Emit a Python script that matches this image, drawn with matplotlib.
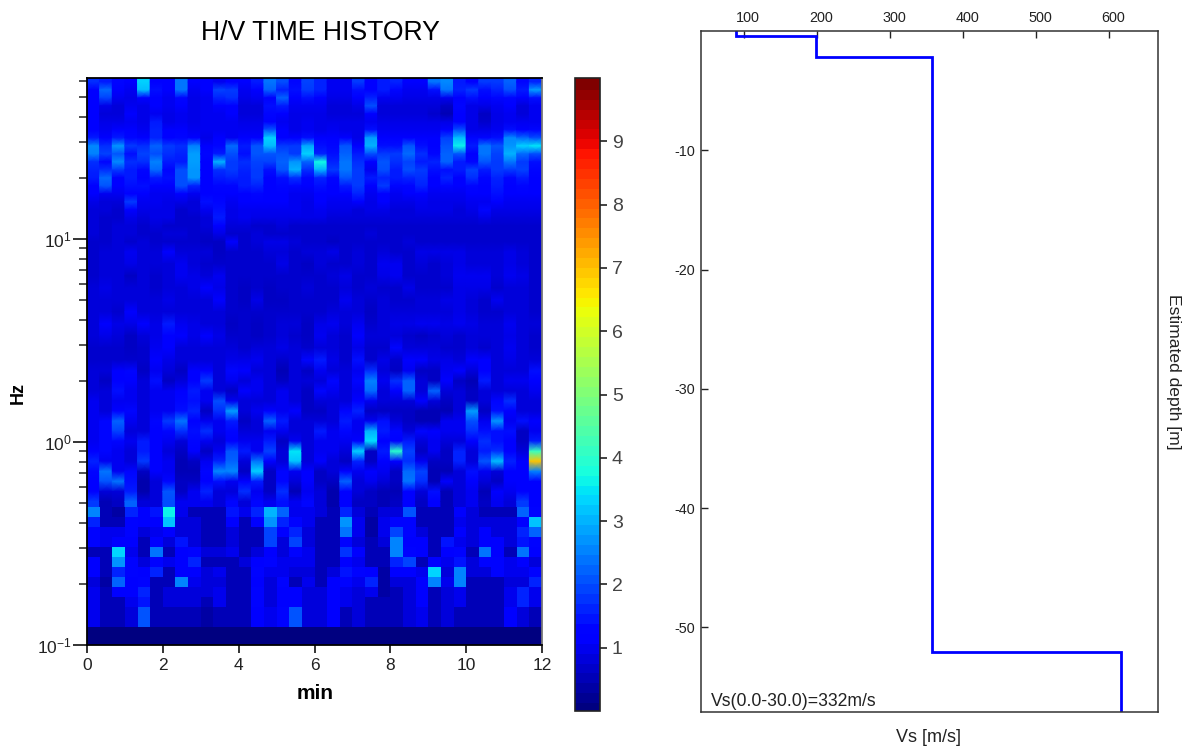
import numpy as np
import matplotlib
matplotlib.use('Agg')
import matplotlib.pyplot as plt
from matplotlib.transforms import ScaledTranslation

plt.rcParams['font.family'] = ['Liberation Sans', 'DejaVu Sans']
plt.rcParams['axes.unicode_minus'] = False

# H/V ratio x10, one list per time window (36 windows, 12 min), highest frequency first
hv_top = [
    [17,11,11,11,11,11,12,15,26,25,17,16,15,12,11,9,8,8,8,8,7],
    [15,23,19,9,8,9,10,11,17,19,13,17,23,21,10,8,8,7,7,7,7],
    [13,12,10,8,8,9,11,15,27,21,26,18,12,12,10,8,7,7,8,8,8],
    [12,10,9,10,11,10,12,13,18,14,17,15,15,14,12,18,11,9,8,8,7],
    [33,31,12,9,9,9,10,12,17,19,17,13,12,14,11,10,9,8,7,7,8],
    [12,14,12,11,10,15,16,16,22,20,25,23,15,12,10,10,9,9,8,7,7],
    [12,11,10,10,9,9,11,11,18,17,15,13,14,12,10,9,9,9,7,8,7],
    [24,24,13,11,10,10,11,13,17,16,15,20,20,20,12,9,7,7,7,8,7],
    [11,10,9,9,9,9,10,11,25,28,28,27,27,16,10,8,8,7,7,7,7],
    [11,11,10,10,10,10,10,9,11,13,11,11,11,11,11,14,10,8,8,7,6],
    [10,19,16,12,10,10,10,11,13,15,30,17,15,13,12,13,14,15,12,9,6],
    [12,18,17,12,11,10,10,10,23,20,18,18,16,13,11,10,9,9,8,7,12],
    [11,10,9,8,8,9,10,12,15,14,17,16,15,15,11,11,10,10,8,7,7],
    [15,12,10,8,8,9,10,11,21,21,19,18,18,16,13,11,10,9,7,8,8],
    [24,22,11,14,13,11,21,33,31,21,19,14,12,11,12,11,10,9,7,7,9],
    [20,16,22,15,12,10,11,12,18,21,22,21,14,13,12,11,10,9,8,7,9],
    [13,14,12,10,9,9,9,12,18,18,27,30,17,13,10,10,10,9,7,7,8],
    [19,18,14,10,9,10,10,14,29,33,22,17,13,11,10,9,9,9,7,7,7],
    [16,16,12,10,9,9,9,12,14,16,37,30,16,14,12,11,10,9,7,7,7],
    [10,10,9,8,8,9,10,11,13,14,16,18,13,11,11,10,9,8,7,7,6],
    [10,10,9,8,8,9,9,11,21,22,24,24,21,15,12,10,9,8,7,7,7],
    [18,14,11,9,8,9,9,9,12,15,17,18,18,18,16,11,8,8,7,7,7],
    [12,11,16,20,11,10,14,28,30,20,11,10,15,12,10,9,9,8,7,8,7],
    [15,15,10,8,8,9,10,11,14,18,21,20,16,18,12,11,9,8,7,7,7],
    [16,13,10,8,8,9,10,11,14,18,17,15,15,13,10,9,8,8,7,7,7],
    [11,10,9,8,8,9,10,11,21,23,19,20,16,13,11,9,8,8,7,7,8],
    [12,10,9,8,8,9,10,11,14,17,15,18,17,16,12,10,9,8,7,7,7],
    [24,14,9,8,7,9,10,11,12,13,16,14,12,12,10,9,9,8,7,7,7],
    [26,24,10,6,5,9,11,19,21,22,22,14,16,13,10,9,9,8,7,7,7],
    [15,16,11,13,11,11,20,31,36,21,15,15,12,11,10,9,8,8,7,7,7],
    [12,18,14,9,9,9,9,13,15,11,13,19,17,13,11,10,9,8,7,7,7],
    [18,14,11,9,6,7,9,13,24,24,21,15,13,12,11,10,13,9,7,7,7],
    [18,16,13,10,9,9,10,14,21,19,18,18,16,15,14,11,9,8,7,7,7],
    [22,20,13,11,10,10,14,26,27,30,24,18,13,12,11,10,9,8,7,7,7],
    [13,15,11,8,8,10,12,23,33,23,18,19,15,13,11,10,9,8,7,7,7],
    [16,28,14,10,10,10,13,20,35,20,14,13,12,12,11,10,9,8,7,7,7],
]
hv_mid = [
    [7,7,7,8,8,8,8,8,7,7],
    [8,8,8,9,8,8,11,9,7,7],
    [8,8,8,8,8,7,9,8,7,7],
    [10,9,6,8,8,12,9,6,6,7],
    [8,8,8,8,8,8,12,8,7,7],
    [8,8,7,7,8,8,9,9,10,11],
    [11,8,8,8,9,8,15,11,12,9],
    [8,10,10,8,8,8,10,11,8,8],
    [8,8,9,9,8,8,9,9,8,8],
    [8,7,8,11,8,8,8,11,8,8],
    [6,7,10,9,12,8,8,9,8,8],
    [7,7,7,7,7,7,6,7,8,9],
    [7,7,7,6,6,7,7,7,7,9],
    [7,7,7,7,9,7,6,6,8,10],
    [8,7,7,6,6,7,7,7,8,8],
    [8,9,7,7,6,7,8,8,9,7],
    [7,7,7,7,7,7,8,7,8,8],
    [8,6,7,8,7,7,6,6,7,13],
    [8,8,7,7,7,7,9,10,8,15],
    [9,7,8,7,7,8,10,8,8,9],
    [7,7,9,8,10,8,8,7,7,7],
    [8,8,7,7,8,8,10,11,9,14],
    [7,7,7,8,7,6,7,8,7,7],
    [8,10,9,7,8,8,8,8,7,9],
    [7,10,10,7,7,8,9,8,13,7],
    [7,7,7,9,7,8,9,7,8,12],
    [9,8,7,7,8,8,10,6,8,12],
    [9,7,7,7,8,8,10,7,8,9],
    [9,8,8,7,9,8,9,8,7,9],
    [9,9,10,9,9,9,10,7,7,8],
    [8,8,10,9,8,8,9,8,8,12],
    [8,8,10,9,7,7,8,8,7,12],
    [8,8,8,7,10,7,8,8,8,8],
    [9,9,10,8,8,8,10,9,10,9],
    [8,8,9,8,8,8,8,8,8,8],
    [7,7,7,7,7,7,8,7,7,8],
]
hv_low = [
    [8,8,8,10,10,10,10,10,11,16,13,12,11,18,26,17,14,14,6,11,12,8,10,10,10,10],
    [8,6,8,8,8,13,13,13,13,10,24,21,8,5,5,5,10,10,6,5,5,4,5,5,5,5],
    [11,11,14,10,11,22,19,13,10,10,10,24,8,6,4,6,10,11,33,28,17,22,11,6,6,6],
    [13,12,10,10,13,10,8,10,8,8,13,14,15,22,17,13,14,11,10,13,14,12,11,10,8,8],
    [6,8,8,8,8,8,8,15,15,18,6,4,4,8,11,12,8,6,5,8,11,14,16,15,21,21],
    [10,14,10,10,10,13,11,11,11,11,11,8,8,8,15,12,10,12,24,13,16,6,5,6,5,5],
    [8,6,10,10,10,18,13,10,8,10,10,13,21,20,36,32,12,8,5,10,6,6,8,8,5,5],
    [6,8,11,13,14,24,17,8,6,5,5,6,6,10,10,8,8,15,12,11,11,25,8,8,5,5],
    [12,11,15,14,16,11,14,13,11,6,5,6,10,10,6,8,8,8,14,17,11,10,8,8,5,5],
    [11,18,10,10,6,10,17,10,6,10,13,11,16,10,5,5,5,5,8,6,8,8,8,6,4,4],
    [8,8,8,20,17,10,10,8,10,16,26,14,8,8,5,5,6,6,8,6,10,8,10,10,6,6],
    [13,10,6,10,28,15,13,12,21,22,26,10,8,13,15,11,8,8,10,6,6,6,6,6,6,6],
    [12,8,12,8,8,6,8,10,15,8,6,11,17,8,10,6,6,6,6,8,6,6,6,6,6,6],
    [8,10,10,8,10,8,8,10,10,24,33,15,10,13,17,12,6,6,8,11,14,12,14,14,11,11],
    [8,8,8,8,12,22,10,15,19,12,6,6,6,10,31,28,20,19,11,13,10,8,8,8,10,10],
    [5,6,10,10,10,15,10,6,8,8,13,13,17,14,22,17,11,8,8,10,10,13,11,11,13,13],
    [8,8,8,8,12,8,8,10,35,32,10,8,5,10,10,14,17,20,14,10,8,6,11,11,21,21],
    [6,8,6,6,6,8,8,8,8,8,11,12,10,13,10,10,8,8,10,10,8,10,8,8,8,8],
    [10,8,13,8,6,8,15,10,10,11,6,6,8,8,8,5,5,5,6,6,5,6,8,8,8,8],
    [8,13,10,8,8,8,10,10,10,8,8,6,4,4,5,6,6,6,6,6,8,11,12,12,12,12],
    [8,8,8,8,13,15,13,10,8,6,12,22,11,11,16,27,24,14,18,12,15,14,10,10,5,5],
    [10,13,10,11,16,10,10,12,33,16,10,8,8,6,8,10,10,8,11,10,13,10,8,8,8,8],
    [17,25,23,10,6,10,30,34,6,6,12,10,6,6,6,4,4,5,5,6,11,17,10,6,5,5],
    [8,10,8,8,6,14,15,12,15,12,10,8,5,5,8,10,10,8,6,6,4,4,4,5,5,5],
    [6,17,12,8,6,8,13,12,40,12,6,6,5,6,8,14,20,26,26,16,11,8,6,6,5,5],
    [10,22,22,8,6,6,8,15,19,17,23,24,12,12,21,13,14,12,13,20,11,8,8,8,8,8],
    [6,8,8,12,5,5,13,8,6,10,19,17,8,6,6,6,8,12,11,6,10,11,11,11,10,10],
    [6,6,22,8,5,5,11,10,10,6,5,5,14,11,5,5,6,6,6,11,34,26,6,6,5,5],
    [10,11,8,6,5,10,10,8,6,6,5,11,5,5,5,5,6,15,12,10,8,10,8,8,8,8],
    [11,6,8,8,8,10,10,8,16,16,8,8,8,8,12,10,11,10,13,15,25,26,10,10,6,6],
    [8,5,6,6,28,20,17,11,8,8,14,11,10,10,8,8,8,8,6,8,8,5,6,6,6,6],
    [11,15,8,8,6,10,14,17,15,21,10,8,5,6,6,8,12,12,24,13,8,5,6,6,6,6],
    [8,8,8,13,14,27,14,14,17,31,8,6,11,10,5,8,8,11,11,13,14,6,6,6,6,6],
    [8,10,8,17,11,10,14,12,12,16,12,11,10,8,6,8,8,8,6,10,10,8,10,10,11,11],
    [8,10,8,8,8,14,6,6,8,12,11,11,11,18,22,12,16,15,24,11,10,8,17,17,8,8],
    [14,12,10,8,8,12,10,15,42,70,25,11,11,11,13,32,22,13,11,8,14,16,10,10,6,6],
]
hv_floor = [1] * 36

time_edges = np.linspace(0, 12, 37)
freq_edges = np.concatenate([
    np.geomspace(62.1, 9.25, 22),
    np.geomspace(9.25, 2.37, 11)[1:],
    np.geomspace(2.37, 0.1226, 27)[1:],
    [0.1],
])
n_smooth = 45  # rows above about 0.55 Hz look blended vertically in the original

# Estimated Vs profile
vs_values = [89, 199, 358, 616, 616]
depth_values = [0, -0.42, -2.15, -52.1, -57.1]
vs_ticks = [100, 200, 300, 400, 500, 600]
depth_ticks = [-10, -20, -30, -40, -50]

W, H = 1183.0, 752.0

def makeAxes(fig, left, top, right, bottom):
    # Axes from pixel box
    return fig.add_axes([left / W, 1 - bottom / H, (right - left) / W, (bottom - top) / H])

fig = plt.figure(figsize=(11.83, 7.52), dpi=100)

# H/V panel
ax = makeAxes(fig, 87, 78, 542, 645)
hv = np.hstack([np.array(hv_top), np.array(hv_mid), np.array(hv_low), np.array(hv_floor)[:, None]]).T / 10.0
cmap = plt.get_cmap('jet', 64)
ax.set_yscale('log')

# gouraud down each column only, so columns keep hard edges
centres = np.sqrt(freq_edges[:-1] * freq_edges[1:])
nodes = np.concatenate([[freq_edges[0]], centres[:n_smooth], [freq_edges[n_smooth]]])
for i in range(36):
    c = hv[:n_smooth, i]
    c = np.concatenate([[c[0]], c, [c[-1]]])
    ax.pcolormesh(time_edges[i:i + 2], nodes, np.column_stack([c, c]), cmap='jet', vmin=0, vmax=10,
                  shading='gouraud')
mesh = ax.pcolormesh(time_edges, freq_edges[n_smooth:], hv[n_smooth:], cmap=cmap, vmin=0, vmax=10, shading='flat')

ax.set_ylim(0.1, 62.1)
ax.set_xlim(0, 12)
ax.set_xticks([0, 2, 4, 6, 8, 10, 12])
ax.set_yticks([0.1, 1, 10])
ax.set_yticklabels([r'$\mathdefault{10^{-1}}$', r'$\mathdefault{10^{0}}$', r'$\mathdefault{10^{1}}$'])
ax.tick_params(axis='x', which='major', direction='out', length=6, width=1.4, color='#333333',
               labelsize=12.5, labelcolor='#222222', pad=3)
ax.tick_params(axis='y', which='major', direction='out', length=10, width=1.4, color='#333333',
               labelsize=12.5, labelcolor='#222222', pad=1)
ax.tick_params(axis='y', which='minor', direction='out', length=5.5, width=1.2, color='#333333', labelleft=False)
for s in ax.spines.values():
    s.set_linewidth(1.3)
ax.spines['right'].set_color('#777777')
ax.set_xlabel('min', fontsize=15, fontweight='bold', va='center')
ax.xaxis.set_label_coords(0.501, -0.085)
ax.set_ylabel('Hz', fontsize=13, fontweight='bold', va='center')
ax.yaxis.set_label_coords(-0.152, 0.444)
fig.text(320 / W, 1 - 33 / H, 'H/V TIME HISTORY', fontsize=19.2, ha='center', va='center', color='black')

# Colorbar
cax = makeAxes(fig, 575, 78, 600, 711)
cb = fig.colorbar(mesh, cax=cax)
cb.set_ticks(range(1, 10))
cb.ax.tick_params(direction='out', length=5, width=1.3, color='#333333', labelsize=14, labelcolor='#444444', pad=3.5)
cb.outline.set_linewidth(1.2)
cb.outline.set_edgecolor('#222222')
cb.solids.set_edgecolor('face')

# Vs profile panel
ax2 = makeAxes(fig, 701, 31, 1158, 712)
ax2.step(vs_values, depth_values, where='pre', color='#0000ff', linewidth=2.0, solid_joinstyle='miter')
ax2.set_xlim(41, 667)
ax2.set_ylim(-57.1, 0)
ax2.set_xticks(vs_ticks)
ax2.set_yticks(depth_ticks)
ax2.xaxis.tick_top()
ax2.tick_params(axis='both', direction='in', length=5, width=1, color='#222222', labelsize=10.4, labelcolor='#222222', pad=4)
shift = ScaledTranslation(4 / 100, 0, fig.dpi_scale_trans)
for lab in ax2.get_xticklabels():
    lab.set_transform(lab.get_transform() + shift)
for s in ax2.spines.values():
    s.set_linewidth(1.1)
    s.set_color('#333333')
ax2.xaxis.set_label_position('bottom')
ax2.set_xlabel('Vs [m/s]', fontsize=13, color='#222222', va='center')
ax2.xaxis.set_label_coords(0.498, -0.037)
ax2.yaxis.set_label_position('right')
ax2.set_ylabel('Estimated depth [m]', fontsize=12.6, rotation=-90, color='#222222', va='center', ha='center')
ax2.yaxis.set_label_coords(1.033, 0.5)
fig.text(711 / W, 1 - 701 / H, 'Vs(0.0-30.0)=332m/s', fontsize=12.7, color='#222222', va='center')

fig.savefig('out.png', dpi=100)
